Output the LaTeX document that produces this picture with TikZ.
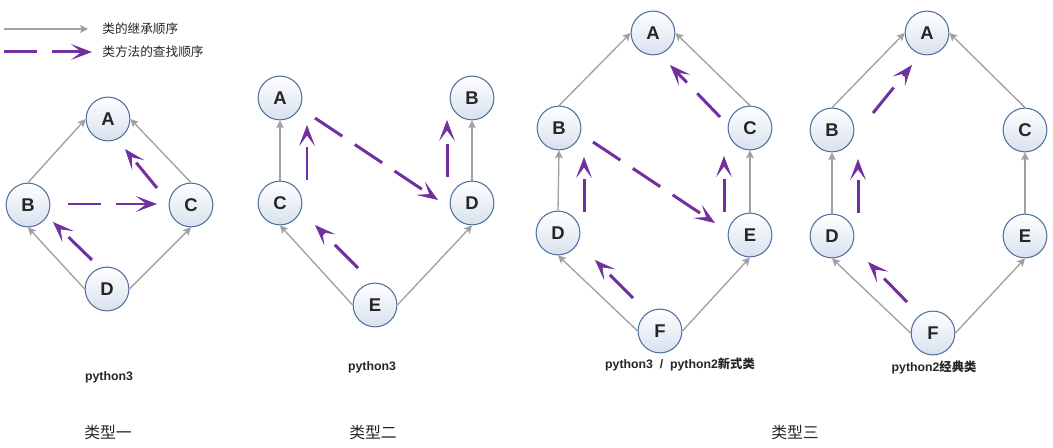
\documentclass[tikz,border=0pt]{standalone}
\usepackage{fontspec}
\setmainfont{Liberation Sans}
\newfontfamily\cjk{Noto Sans CJK SC}
\usetikzlibrary{arrows.meta}
\definecolor{inhgray}{HTML}{A0A0A0}
\definecolor{mropurple}{HTML}{7030A0}
\definecolor{rimblue}{HTML}{52719E}
\definecolor{fillblue}{HTML}{D8E1EE}
\definecolor{txtdark}{HTML}{262626}
\tikzset{cls/.style = {circle,draw=rimblue,line width=0.6pt,top color=white,bottom color=fillblue,
                       minimum size=24.9pt,inner sep=0pt,text=txtdark,
                       font=\bfseries\fontsize{10.5}{12}\selectfont}}
\tikzset{inherit/.style = {draw=inhgray,line width=0.75pt,-{Stealth[length=4.5pt,width=4.5pt,inset=1pt]}}}
\tikzset{lookup/.style = {draw=mropurple,line width=1.7pt,dash pattern=on 18.7pt off 8.5pt,
                          -{Stealth[length=12pt,width=9pt,inset=6pt,line width=0.4pt]}}}
\tikzset{pyver/.style = {text=txtdark,font=\bfseries\fontsize{7}{8}\selectfont}}
\tikzset{typelabel/.style = {text=txtdark,font=\cjk\fontsize{9}{10}\selectfont}}
\tikzset{legtext/.style = {text=txtdark,anchor=west,inner sep=0pt,font=\cjk\fontsize{7.2}{8}\selectfont}}

\begin{document}
\begin{tikzpicture}[x=0.02cm,y=-0.02cm]
            \useasboundingbox[fill=white] (0,0) rectangle (1053,448);
            % legend
            \coordinate (l1s) at (4,29);
            \coordinate (l1e) at (88,29);
            \coordinate (l2s) at (4,52);
            \coordinate (l2e) at (92,52);
            \draw[inherit] (l1s) -- (l1e);
            \draw[lookup] (l2s) -- (l2e);
            \node[legtext] (l1t) at (102,29) {类的继承顺序};
            \node[legtext] (l2t) at (102,52) {类方法的查找顺序};
            % type one
            \node[cls] (a1) at (108,119) {A};
            \node[cls] (b1) at ( 28,205) {B};
            \node[cls] (c1) at (191,205) {C};
            \node[cls] (d1) at (107,289) {D};
            % type two
            \node[cls] (a2) at (280, 98) {A};
            \node[cls] (b2) at (472, 98) {B};
            \node[cls] (c2) at (280,203) {C};
            \node[cls] (d2) at (472,203) {D};
            \node[cls] (e2) at (375,305) {E};
            % type three, new style
            \node[cls] (a3) at (653, 33) {A};
            \node[cls] (b3) at (559,128) {B};
            \node[cls] (c3) at (750,128) {C};
            \node[cls] (d3) at (558,233) {D};
            \node[cls] (e3) at (750,235) {E};
            \node[cls] (f3) at (660,331) {F};
            % type three, classic
            \node[cls] (a4) at (927, 33) {A};
            \node[cls] (b4) at (832,130) {B};
            \node[cls] (c4) at (1025,130) {C};
            \node[cls] (d4) at (832,236) {D};
            \node[cls] (e4) at (1025,236) {E};
            \node[cls] (f4) at (933,333) {F};
            \foreach \s/\t in {b1.north/a1.west, c1.north/a1.east, d1.west/b1.south, d1.east/c1.south,
                               c2.north/a2.south, d2.north/b2.south, e2.west/c2.south, e2.east/d2.south,
                               b3.north/a3.west, c3.north/a3.east, d3.north/b3.south, e3.north/c3.south,
                               f3.west/d3.south, f3.east/e3.south,
                               b4.north/a4.west, c4.north/a4.east, d4.north/b4.south, e4.north/c4.south,
                               f4.west/d4.south, f4.east/e4.south}
                \draw[inherit] (\s) -- (\t);
            % lookup order
            \draw[lookup] ([shift={(-15,-29)}]d1.center) -- ([shift={(25,17)}]b1.center);
            \draw[lookup] ([shift={(40,-1)}]b1.center) -- ([shift={(-34,-1)}]c1.center);
            \draw[lookup] ([shift={(-34,-17)}]c1.center) -- ([shift={(17,30)}]a1.center);
            \draw[lookup] ([shift={(-17,-37)}]e2.center) -- ([shift={(35,22)}]c2.center);
            \draw[lookup] ([shift={(27,-23)}]c2.center) -- ([shift={(27,27)}]a2.center);
            \draw[lookup] ([shift={(35,20)}]a2.center) -- ([shift={(-34,-3)}]d2.center);
            \draw[lookup] ([shift={(-25,-26)}]d2.center) -- ([shift={(-25,22)}]b2.center);
            \draw[lookup] ([shift={(-27,-33)}]f3.center) -- ([shift={(37,27)}]d3.center);
            \draw[lookup] ([shift={(26,-21)}]d3.center) -- ([shift={(25,29)}]b3.center);
            \draw[lookup] ([shift={(34,14)}]b3.center) -- ([shift={(-35,-12)}]e3.center);
            \draw[lookup] ([shift={(-26,-23)}]e3.center) -- ([shift={(-26,28)}]c3.center);
            \draw[lookup] ([shift={(-30,-11)}]c3.center) -- ([shift={(17,32)}]a3.center);
            \draw[lookup] ([shift={(-26,-31)}]f4.center) -- ([shift={(36,26)}]d4.center);
            \draw[lookup] ([shift={(26,-23)}]d4.center) -- ([shift={(26,29)}]b4.center);
            \draw[lookup] ([shift={(41,-17)}]b4.center) -- ([shift={(-15,32)}]a4.center);
            % captions
            \node[pyver] (p1) at (109,377) {python3};
            \node[pyver] (p2) at (372,367) {python3};
            \node[pyver] (p3) at (680,364) {python3 \ / \ python2{\cjk 新式类}};
            \node[pyver] (p4) at (934,367) {python2{\cjk 经典类}};
            \node[typelabel] (t1) at (108,432) {类型一};
            \node[typelabel] (t2) at (373,432) {类型二};
            \node[typelabel] (t3) at (795,432) {类型三};
        \end{tikzpicture}
\end{document}
